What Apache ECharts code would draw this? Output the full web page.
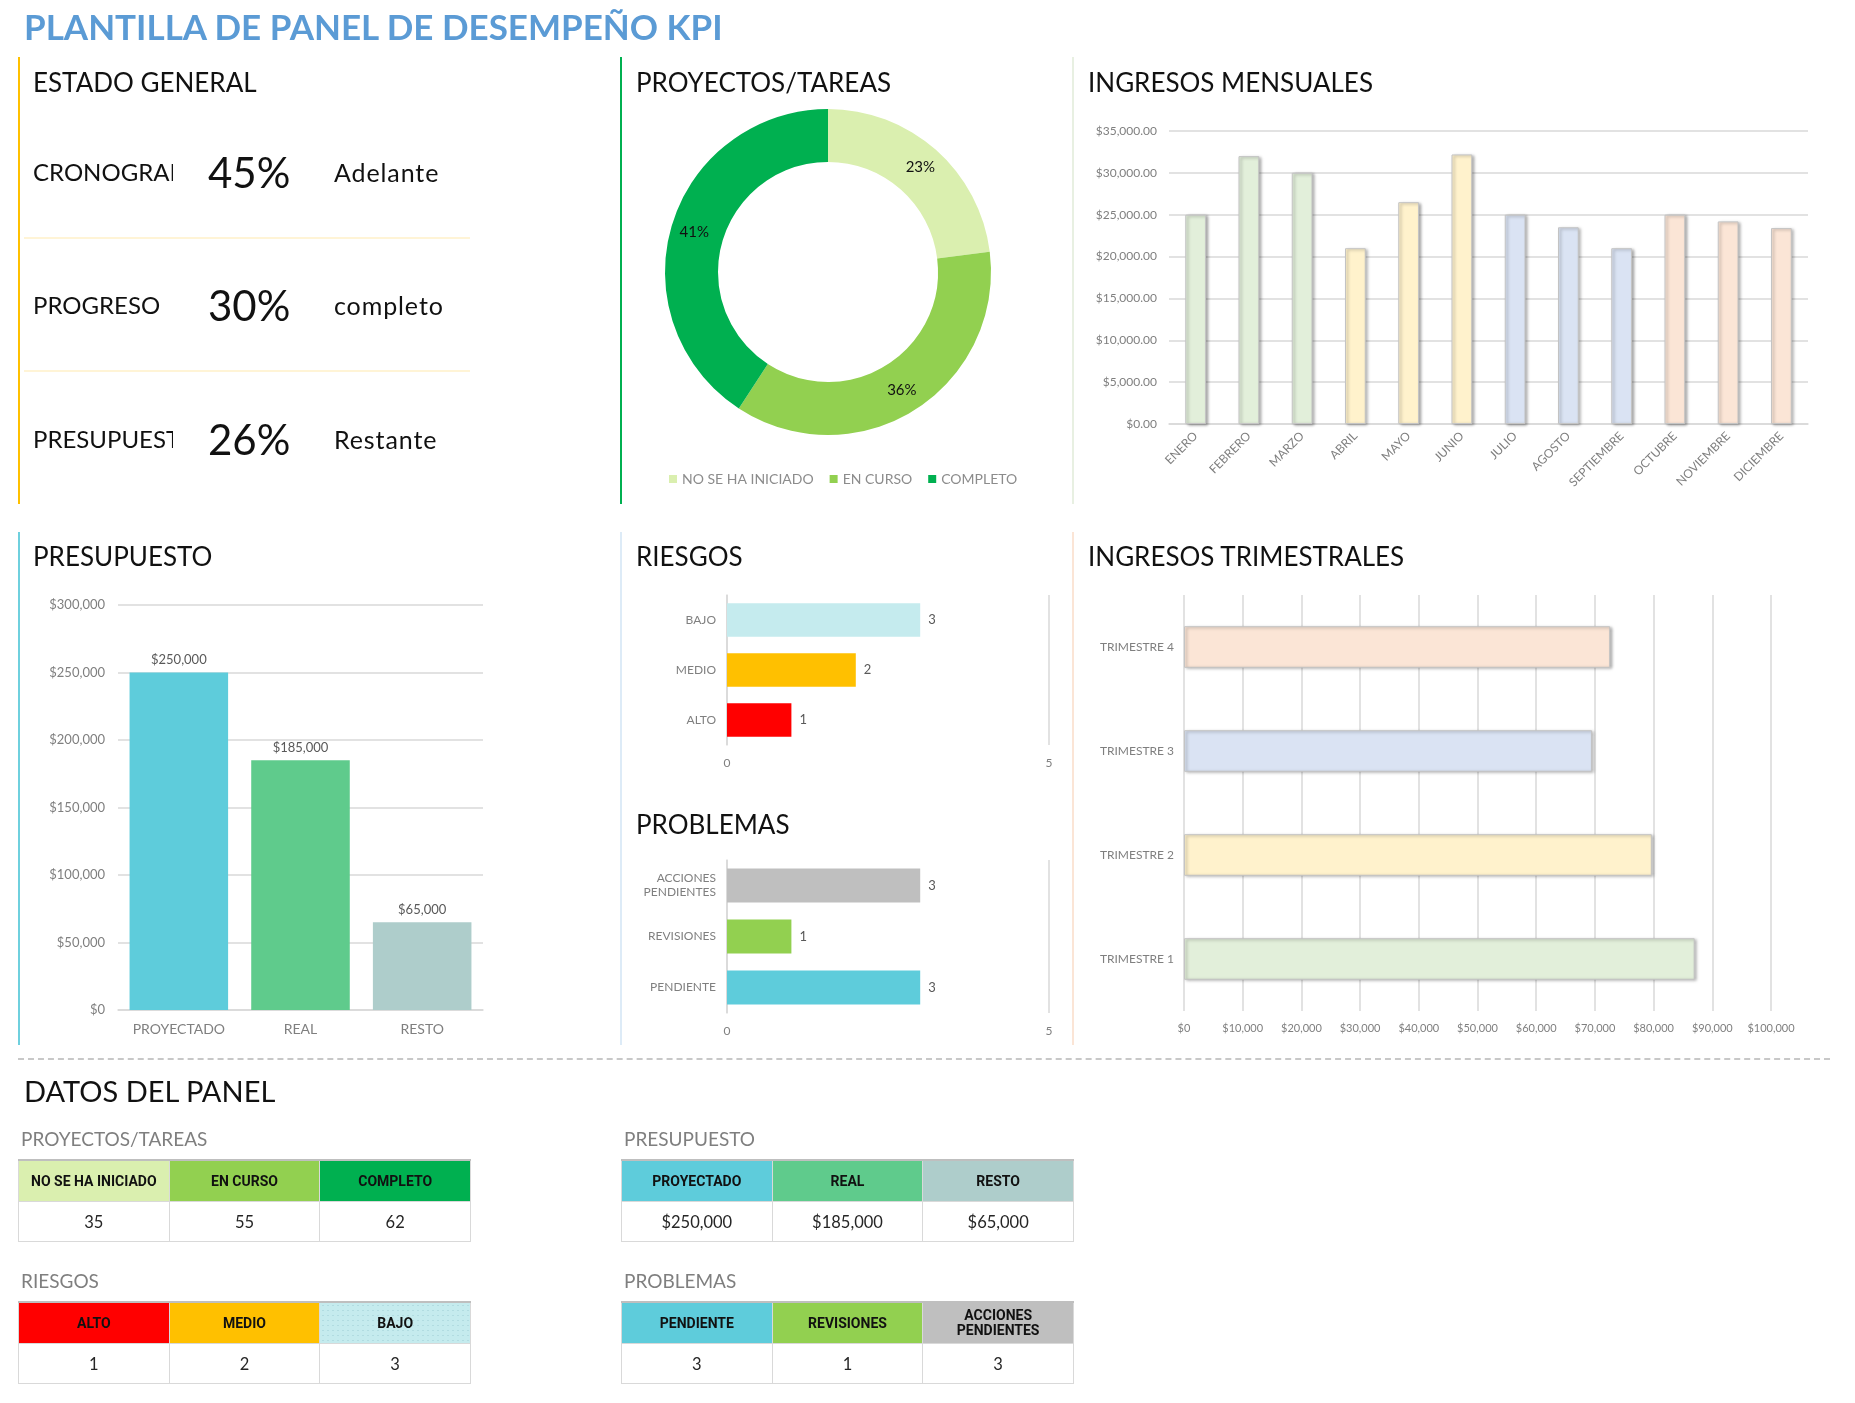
<!DOCTYPE html>
<html>
<head>
<meta charset="utf-8">
<script src="https://cdn.jsdelivr.net/npm/echarts/dist/echarts.min.js"></script>
<style>
  html, body { margin:0; padding:0; background:#fff; }
  body { width:1855px; height:1403px; position:relative; overflow:hidden; font-family: Lato, "Noto Sans", sans-serif; }
  #chart { position:absolute; left:0; top:0; width:1855px; height:1403px; z-index:1; }
  .t { position:absolute; white-space:nowrap; z-index:2; pointer-events:none; }
  .vline { position:absolute; width:2px; z-index:2; }
  .hline { position:absolute; height:2px; z-index:2; }
  table.dt { position:absolute; border-collapse:collapse; table-layout:fixed; z-index:2; border-top:2px solid #BFBFBF; }
  table.dt td { border:1px solid #D9D9D9; text-align:center; vertical-align:middle; padding:0; }
  table.dt td.h { font-family: Roboto, Lato, sans-serif; font-weight:700; font-size:14px; color:#111; height:40px; line-height:15px; }
  table.dt td.v { font-size:16.5px; color:#262626; height:39px; }
</style>
</head>
<body>
<div id="chart"></div>
<script>
// ---------------- DATA ----------------
const estadoLabels = ['CRONOGRAMA', 'PROGRESO', 'PRESUPUESTO'];
const estadoPct = ['45%', '30%', '26%'];
const estadoWords = ['Adelante', 'completo', 'Restante'];

const tareasCats = ['NO SE HA INICIADO', 'EN CURSO', 'COMPLETO'];
const tareasVals = [35, 55, 62];

const months = ['ENERO', 'FEBRERO', 'MARZO', 'ABRIL', 'MAYO', 'JUNIO', 'JULIO', 'AGOSTO', 'SEPTIEMBRE', 'OCTUBRE', 'NOVIEMBRE', 'DICIEMBRE'];
const monthlyVals = [25000, 32000, 30000, 21000, 26500, 32200, 25000, 23500, 21000, 25000, 24200, 23400];

const budgetCats = ['PROYECTADO', 'REAL', 'RESTO'];
const budgetVals = [250000, 185000, 65000];

const riskCats = ['ALTO', 'MEDIO', 'BAJO'];
const riskVals = [1, 2, 3];

const issueCats = ['PENDIENTE', 'REVISIONES', 'ACCIONES PENDIENTES'];
const issueVals = [3, 1, 3];

const quarterCats = ['TRIMESTRE 1', 'TRIMESTRE 2', 'TRIMESTRE 3', 'TRIMESTRE 4'];
const quarterVals = [87000, 79700, 69500, 72600];

// ---------------- STYLES ----------------
const quarterColors = ['#E2EFDA', '#FFF2CC', '#DAE3F3', '#FBE5D6'];
const tareasColors = ['#DAEFAF', '#92D050', '#00B050'];
const budgetColors = ['#5ECCDB', '#5FCB8C', '#AECDCB'];
const riskColors = ['#FF0000', '#FFC000', '#C5EBEE'];
const issueColors = ['#5ECCDB', '#92D050', '#BFBFBF'];
const FONT = 'Lato, "Noto Sans", sans-serif';
const GRAY = '#7F7F7F';

// ---------------- HTML TEXT / LINES ----------------
function txt(s, x, cy, size, opts) {
  opts = opts || {};
  const d = document.createElement('div');
  d.className = 't';
  d.textContent = s;
  const lh = Math.round(size * 1.25);
  d.style.left = x + 'px';
  d.style.top = (cy - lh / 2) + 'px';
  d.style.fontSize = size + 'px';
  d.style.lineHeight = lh + 'px';
  d.style.color = opts.color || '#111';
  if (opts.weight) d.style.fontWeight = opts.weight;
  if (opts.width) { d.style.width = opts.width + 'px'; d.style.overflow = 'hidden'; }
  if (opts.ls) d.style.letterSpacing = opts.ls + 'px';
  if (opts.family) d.style.fontFamily = opts.family;
  document.body.appendChild(d);
  return d;
}
function vline(x, y1, y2, color) {
  const d = document.createElement('div');
  d.className = 'vline';
  d.style.left = x + 'px'; d.style.top = y1 + 'px'; d.style.height = (y2 - y1) + 'px';
  d.style.background = color;
  document.body.appendChild(d);
}
function hline(x1, x2, y, color, dashed) {
  const d = document.createElement('div');
  d.className = 'hline';
  d.style.left = x1 + 'px'; d.style.top = y + 'px'; d.style.width = (x2 - x1) + 'px';
  if (dashed) { d.style.height = '0'; d.style.borderTop = '2px dashed ' + color; }
  else d.style.background = color;
  document.body.appendChild(d);
}

txt('PLANTILLA DE PANEL DE DESEMPEÑO KPI', 24, 26, 35, { color: '#5B9BD5', weight: 700 });

// panel border lines
vline(18, 57, 504, '#FFC000');
vline(620, 57, 504, '#00B050');
vline(1072, 57, 504, '#E8F0E2');
vline(18, 532, 1045, '#6FD0DE');
vline(620, 532, 1045, '#DDEBF7');
vline(1072, 532, 1045, '#FBE5D6');
hline(18, 1830, 1058, '#C8C8C8', true);

// panel titles
const titleSize = 26;
txt('ESTADO GENERAL', 33, 82, titleSize);
txt('PROYECTOS/TAREAS', 636, 82, titleSize);
txt('INGRESOS MENSUALES', 1088, 82, titleSize);
txt('PRESUPUESTO', 33, 556, titleSize);
txt('RIESGOS', 636, 556, titleSize);
txt('PROBLEMAS', 636, 824, titleSize);
txt('INGRESOS TRIMESTRALES', 1088, 556, titleSize);

// estado general
const rowY = [172, 305, 439];
estadoLabels.forEach((l, i) => {
  txt(l, 33, rowY[i], 24, { width: 140 });
  txt(estadoPct[i], 208, rowY[i], 42);
  txt(estadoWords[i], 334, rowY[i], 25, { ls: 0.9 });
});
hline(24, 470, 237, '#FFF4D6');
hline(24, 470, 370, '#FFF4D6');

// ---------------- TABLES ----------------
txt('DATOS DEL PANEL', 24, 1091, 29);
function table(title, x, y, cats, vals, colors, fmt, extra) {
  txt(title, x + 3, y - 20, 19, { color: GRAY });
  const t = document.createElement('table');
  t.className = 'dt';
  t.style.left = x + 'px'; t.style.top = y + 'px'; t.style.width = '453px';
  const r1 = document.createElement('tr');
  const r2 = document.createElement('tr');
  cats.forEach((c, i) => {
    const h = document.createElement('td');
    h.className = 'h';
    h.innerHTML = c.replace(' PENDIENTES', '<br>PENDIENTES');
    h.style.background = colors[i];
    if (extra && extra[i]) h.style.cssText += extra[i];
    r1.appendChild(h);
    const v = document.createElement('td');
    v.className = 'v';
    v.textContent = fmt(vals[i]);
    r2.appendChild(v);
  });
  t.appendChild(r1); t.appendChild(r2);
  document.body.appendChild(t);
}
const money = v => '$' + v.toLocaleString('en-US');
const dots = 'background-image:radial-gradient(rgba(110,170,180,0.45) 0.7px, transparent 0.9px);background-size:5px 5px;';
table('PROYECTOS/TAREAS', 18, 1159, tareasCats, tareasVals, tareasColors, v => String(v));
table('PRESUPUESTO', 621, 1159, budgetCats, budgetVals, budgetColors, money);
table('RIESGOS', 18, 1301, riskCats, riskVals, riskColors, v => String(v), [null, null, dots]);
table('PROBLEMAS', 621, 1301, issueCats, issueVals, issueColors, v => String(v));

// ---------------- CHARTS ----------------
const chart = echarts.init(document.getElementById('chart'), null, { renderer: 'canvas' });
const tot = tareasVals.reduce((a, b) => a + b, 0);
const barShadow = { borderColor: '#C4C4C4', borderWidth: 1, shadowColor: 'rgba(0,0,0,0.35)', shadowBlur: 3, shadowOffsetX: 2, shadowOffsetY: 1 };
const gridLine = { show: true, lineStyle: { color: '#D9D9D9', width: 1.5 } };

chart.setOption({
  animation: false,
  textStyle: { fontFamily: FONT },
  legend: {
    data: tareasCats, left: 664, top: 467, icon: 'rect', itemWidth: 8, itemHeight: 8, itemGap: 16,
    textStyle: { color: '#8C8C8C', fontSize: 14, fontFamily: FONT }
  },
  grid: [
    { left: 1169, top: 131, width: 639, height: 293 },   // monthly
    { left: 118, top: 605, width: 365, height: 405 },    // budget
    { left: 727, top: 595, width: 322, height: 150 },    // risks
    { left: 727, top: 860, width: 322, height: 153 },    // issues
    { left: 1184, top: 595, width: 587, height: 416 }    // quarterly
  ],
  xAxis: [
    { gridIndex: 0, type: 'category', data: months,
      axisLine: { lineStyle: { color: '#D9D9D9', width: 1.5 } }, axisTick: { show: false },
      axisLabel: { rotate: 45, color: GRAY, fontSize: 12, margin: 10, interval: 0 } },
    { gridIndex: 1, type: 'category', data: budgetCats,
      axisLine: { lineStyle: { color: '#D9D9D9', width: 1.5 } }, axisTick: { show: false },
      axisLabel: { color: GRAY, fontSize: 14, margin: 12 } },
    { gridIndex: 2, type: 'value', min: 0, max: 5, interval: 5,
      axisLine: { show: false }, axisTick: { show: false }, splitLine: gridLine,
      axisLabel: { color: GRAY, fontSize: 12, margin: 12 } },
    { gridIndex: 3, type: 'value', min: 0, max: 5, interval: 5,
      axisLine: { show: false }, axisTick: { show: false }, splitLine: gridLine,
      axisLabel: { color: GRAY, fontSize: 12, margin: 12 } },
    { gridIndex: 4, type: 'value', min: 0, max: 100000, interval: 10000,
      axisLine: { show: false }, axisTick: { show: false }, splitLine: gridLine,
      axisLabel: { color: GRAY, fontSize: 11, margin: 12, formatter: v => '$' + v.toLocaleString('en-US') } }
  ],
  yAxis: [
    { gridIndex: 0, type: 'value', min: 0, max: 35000, interval: 5000,
      axisLine: { show: false }, axisTick: { show: false }, splitLine: gridLine,
      axisLabel: { color: GRAY, fontSize: 12, margin: 12,
        formatter: v => '$' + v.toLocaleString('en-US', { minimumFractionDigits: 2, maximumFractionDigits: 2 }) } },
    { gridIndex: 1, type: 'value', min: 0, max: 300000, interval: 50000,
      axisLine: { show: false }, axisTick: { show: false }, splitLine: gridLine,
      axisLabel: { color: GRAY, fontSize: 13, margin: 13, formatter: v => '$' + v.toLocaleString('en-US') } },
    { gridIndex: 2, type: 'category', data: riskCats,
      axisLine: { lineStyle: { color: '#D9D9D9', width: 1.5 } }, axisTick: { show: false },
      axisLabel: { color: GRAY, fontSize: 12, margin: 11 } },
    { gridIndex: 3, type: 'category', data: issueCats,
      axisLine: { lineStyle: { color: '#D9D9D9', width: 1.5 } }, axisTick: { show: false },
      axisLabel: { color: GRAY, fontSize: 12, margin: 11, lineHeight: 14, align: 'right',
        formatter: v => v.replace(' PENDIENTES', '\nPENDIENTES') } },
    { gridIndex: 4, type: 'category', data: quarterCats,
      axisLine: { show: false }, axisTick: { show: false },
      axisLabel: { color: GRAY, fontSize: 12, margin: 10 } }
  ],
  series: [
    { type: 'pie', center: [828, 272], radius: [110, 163], startAngle: 90, clockwise: true,
      data: tareasCats.map((c, i) => ({ name: c, value: tareasVals[i], itemStyle: { color: tareasColors[i] } })),
      label: { show: true, position: 'inside', color: '#111', fontSize: 15, fontFamily: FONT,
        formatter: p => Math.round(p.value / tot * 100) + '%' },
      labelLine: { show: false }, emphasis: { disabled: true } },
    { type: 'bar', xAxisIndex: 0, yAxisIndex: 0, barCategoryGap: '61%',
      data: monthlyVals.map((v, i) => ({ value: v, itemStyle: Object.assign({ color: quarterColors[Math.floor(i / 3)] }, barShadow) })) },
    { type: 'bar', xAxisIndex: 1, yAxisIndex: 1, barCategoryGap: '19%',
      data: budgetVals.map((v, i) => ({ value: v, itemStyle: { color: budgetColors[i] } })),
      label: { show: true, position: 'top', distance: 6, color: '#595959', fontSize: 13, formatter: p => money(p.value) } },
    { type: 'bar', xAxisIndex: 2, yAxisIndex: 2, barCategoryGap: '33%',
      data: riskVals.map((v, i) => ({ value: v, itemStyle: { color: riskColors[i] } })),
      label: { show: true, position: 'right', distance: 8, color: '#595959', fontSize: 13 } },
    { type: 'bar', xAxisIndex: 3, yAxisIndex: 3, barCategoryGap: '33%',
      data: issueVals.map((v, i) => ({ value: v, itemStyle: { color: issueColors[i] } })),
      label: { show: true, position: 'right', distance: 8, color: '#595959', fontSize: 13 } },
    { type: 'bar', xAxisIndex: 4, yAxisIndex: 4, barCategoryGap: '60%',
      data: quarterVals.map((v, i) => ({ value: v, itemStyle: Object.assign({ color: quarterColors[i] }, barShadow) })) }
  ]
});
</script>
</body>
</html>
